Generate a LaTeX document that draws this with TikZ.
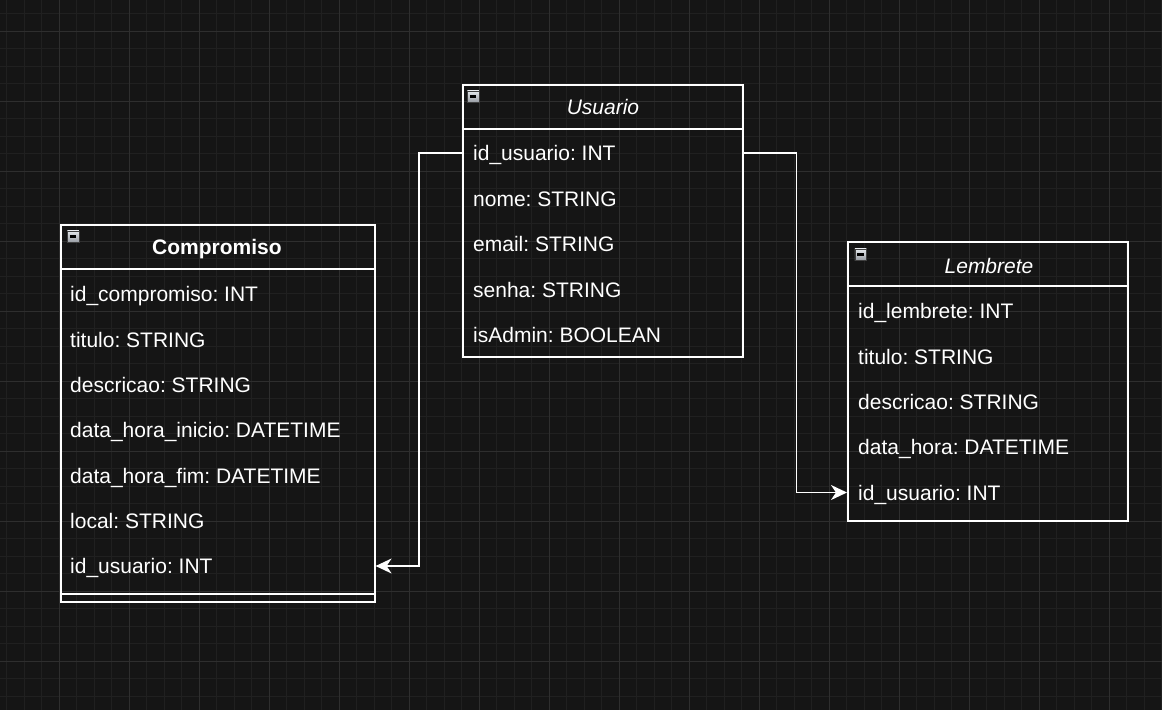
\documentclass[tikz,border=0pt]{standalone}
\usepackage{fontspec}
\setmainfont{Liberation Sans}
\usetikzlibrary{arrows.meta}
\definecolor{bg}{RGB}{21,21,21}
\definecolor{minorgrid}{RGB}{32,32,32}
\definecolor{majorgrid}{RGB}{46,46,46}
\definecolor{iconlight}{RGB}{230,233,237}
\definecolor{icondark}{RGB}{150,155,162}
\tikzset{
  entitybox/.style={draw=white, line width=1.6pt, anchor=north west, inner sep=0pt},
  headline/.style={draw=white, line width=1.6pt},
  fieldtext/.style={anchor=west, text=white, inner sep=0pt, text height=15pt, text depth=0pt, font=\fontsize{21}{24}\selectfont},
  titletext/.style={text=white, inner sep=0pt, text height=15pt, text depth=0pt, font=\fontsize{21}{24}\selectfont},
  conn/.style={draw=white, line width=1.6pt, -{Stealth[length=16pt,width=15pt,inset=5pt]}},
  collapseicon/.style={anchor=north west, minimum size=11.5pt, inner sep=0pt,
    draw=gray!50!black, line width=0.5pt, top color=iconlight, bottom color=icondark},
  iconminus/.style={black, line width=2.2pt},
}
\begin{document}
\frenchspacing
\begin{tikzpicture}[x=1pt,y=-1pt]
\useasboundingbox (0,0) rectangle (1162,710);
\fill[bg] (0,0) rectangle (1162,710);
% grid
\foreach \i in {0,...,66} {\draw[minorgrid, line width=1pt] ({6.8+17.5*\i},0) -- ++(0,710);}
\foreach \i in {0,...,40} {\draw[minorgrid, line width=1pt] (0,{13.5+17.5*\i}) -- ++(1162,0);}
\foreach \i in {0,...,16} {\draw[majorgrid, line width=1pt] ({-10.7+70*\i},0) -- ++(0,710);}
\foreach \i in {0,...,10} {\draw[majorgrid, line width=1pt] (0,{31+70*\i}) -- ++(1162,0);}

% ---------- Usuario ----------
\node[entitybox, minimum width=280pt, minimum height=272pt] (usuario) at (462,84) {};
\draw[headline] (462,129) -- (742,129);
\node[collapseicon] (uicon) at (467,90.5) {};
\draw[iconminus] ([xshift=2.6pt]uicon.west) -- ([xshift=-2.6pt]uicon.east);
\node[titletext, font=\fontsize{21}{24}\selectfont\itshape] (utitle) at (603,107) {Usuario};
\node[fieldtext] (u1) at (473,153) {id\_usuario: INT};
\node[fieldtext] (u2) at (473,198.5) {nome: STRING};
\node[fieldtext] (u3) at (473,244) {email: STRING};
\node[fieldtext] (u4) at (473,289.5) {senha: STRING};
\node[fieldtext] (u5) at (473,335) {isAdmin: BOOLEAN};

% ---------- Compromiso ----------
\node[entitybox, minimum width=314pt, minimum height=377pt] (compromiso) at (60,224) {};
\draw[headline] (60,269) -- (374,269);
\draw[headline] (60,594) -- (374,594);
\node[collapseicon] (cicon) at (67,230.5) {};
\draw[iconminus] ([xshift=2.6pt]cicon.west) -- ([xshift=-2.6pt]cicon.east);
\node[titletext, font=\fontsize{21}{24}\selectfont\bfseries] (ctitle) at (217,247) {Compromiso};
\node[fieldtext] (c1) at (70,294) {id\_compromiso: INT};
\node[fieldtext] (c2) at (70,339.5) {titulo: STRING};
\node[fieldtext] (c3) at (70,384.5) {descricao: STRING};
\node[fieldtext] (c4) at (70,430) {data\_hora\_inicio: DATETIME};
\node[fieldtext] (c5) at (70,475.5) {data\_hora\_fim: DATETIME};
\node[fieldtext] (c6) at (70,520.5) {local: STRING};
\node[fieldtext] (c7) at (70,566) {id\_usuario: INT};

% ---------- Lembrete ----------
\node[entitybox, minimum width=280pt, minimum height=279pt] (lembrete) at (847,241) {};
\draw[headline] (847,286) -- (1127,286);
\node[collapseicon] (licon) at (854.5,248.5) {};
\draw[iconminus] ([xshift=2.6pt]licon.west) -- ([xshift=-2.6pt]licon.east);
\node[titletext, font=\fontsize{21}{24}\selectfont\itshape] (ltitle) at (989,266) {Lembrete};
\node[fieldtext] (l1) at (858,311) {id\_lembrete: INT};
\node[fieldtext] (l2) at (858,356.5) {titulo: STRING};
\node[fieldtext] (l3) at (858,401.5) {descricao: STRING};
\node[fieldtext] (l4) at (858,447) {data\_hora: DATETIME};
\node[fieldtext] (l5) at (858,492.5) {id\_usuario: INT};

% ---------- connectors ----------
\draw[conn] (usuario.west |- u1) -- ++(-43,0) |- (compromiso.east |- c7);
\draw[conn] (usuario.east |- u1) -- ++(53,0) |- (lembrete.west |- l5);
\end{tikzpicture}
\end{document}
